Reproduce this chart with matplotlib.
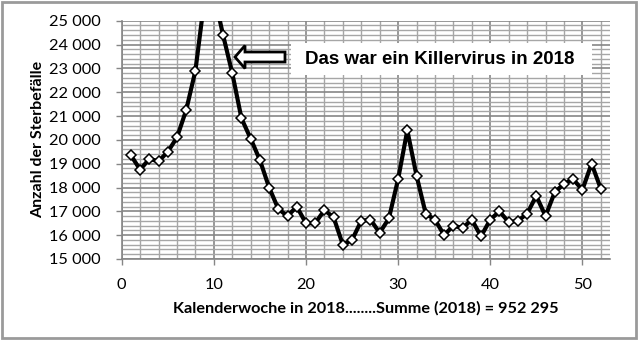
import matplotlib
matplotlib.use("Agg")
import matplotlib.pyplot as plt
import matplotlib.patches as mpatches
from matplotlib.ticker import MultipleLocator, FuncFormatter

# Weekly deaths in Germany, 2018
weeks = list(range(1, 53))
deaths = [19350, 18750, 19200, 19100, 19500, 20100, 21250, 22900, 25950, 26150,
          24400, 22800, 20900, 20050, 19150, 18000, 17100, 16800, 17200, 16500,
          16500, 17050, 16750, 15600, 15800, 16600, 16650, 16100, 16700, 18350,
          20400, 18500, 16900, 16650, 16000, 16400, 16300, 16650, 15950, 16650,
          17000, 16550, 16600, 16900, 17650, 16800, 17800, 18150, 18350, 17900,
          19000, 17950]
total = 952295
note = "Das war ein Killervirus in 2018"

W, H = 640, 340
fig = plt.figure(figsize=(W / 100, H / 100), dpi=100)

def fx(px):
    return px / W

def fy(py):
    return 1 - py / H

ax = fig.add_axes([fx(121.7), fy(259), fx(610) - fx(121.7), fy(20.7) - fy(259)])

ax.plot(weeks, deaths, color="black", lw=3.0, marker="D", ms=5.4,
        mfc="white", mec="black", mew=1.1, zorder=3)

ax.set_xlim(0, 53)
ax.set_ylim(15000, 25000)
ax.xaxis.set_major_locator(MultipleLocator(10))
ax.xaxis.set_minor_locator(MultipleLocator(2))
ax.yaxis.set_major_locator(MultipleLocator(1000))
ax.yaxis.set_minor_locator(MultipleLocator(200))
ax.yaxis.set_major_formatter(FuncFormatter(lambda v, p: f"{int(v):,}".replace(",", " ")))

ax.grid(which="minor", color="#a6a6a6", lw=1.0)
ax.grid(which="major", color="#868686", lw=1.2)
ax.set_axisbelow(True)
for s in ("top", "right"):
    ax.spines[s].set_visible(False)
for s in ("left", "bottom"):
    ax.spines[s].set_color("#868686")
    ax.spines[s].set_linewidth(1.2)

ax.tick_params(which="major", length=4, width=1, color="#868686")
ax.tick_params(which="minor", length=0)
ax.tick_params(axis="x", pad=10)
ax.tick_params(axis="y", pad=11)
for lab in ax.get_xticklabels() + ax.get_yticklabels():
    lab.set_fontfamily("Lato")
    lab.set_fontsize(11.8)

ax.set_ylabel("Anzahl der Sterbefälle", family="Lato", weight="bold", size=11.5, labelpad=3)
ax.set_xlabel(f"Kalenderwoche in 2018........Summe (2018) = {total:,}".replace(",", " "),
              family="Lato", weight="bold", size=11.7, labelpad=6)

# callout box
fig.patches.append(mpatches.Rectangle((fx(291), fy(75)), fx(592) - fx(291), fy(43) - fy(75),
                                      transform=fig.transFigure, facecolor="white",
                                      edgecolor="none", zorder=5))
fig.text(fx(440), fy(59), note, family="Liberation Sans", weight="bold", size=13.5,
         ha="center", va="center", zorder=6)

# block arrow pointing left
arrow_px = [(235, 57), (245, 45.5), (245, 52), (285, 52), (285, 62), (245, 62), (245, 68.5)]
fig.patches.append(mpatches.Polygon([(fx(x), fy(y)) for x, y in arrow_px], closed=True,
                                    transform=fig.transFigure, facecolor="white",
                                    edgecolor="black", lw=2, zorder=5))

# outer frame
fig.patches.append(mpatches.Rectangle((fx(2), fy(338)), fx(636) - fx(2), fy(2) - fy(338),
                                      transform=fig.transFigure, facecolor="none",
                                      edgecolor="#9a9a9a", lw=2, zorder=6))

fig.savefig("out.png", dpi=100)
